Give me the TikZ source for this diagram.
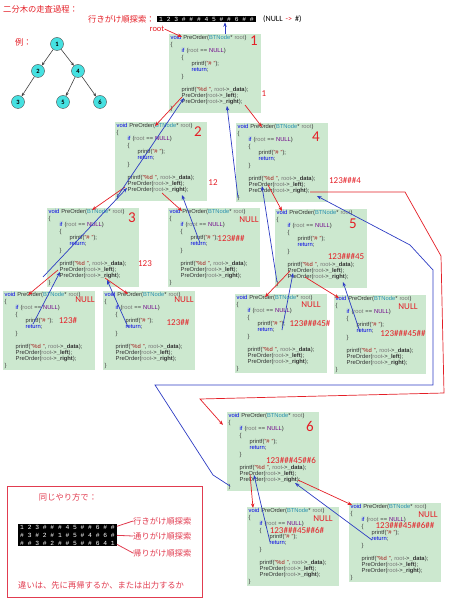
\documentclass[tikz,border=0pt]{standalone}
\usepackage{fontspec}
\setmainfont{Carlito}
\setsansfont{Liberation Sans}
\setmonofont{Liberation Mono}
\newfontfamily\jp{Noto Sans CJK JP}
\usetikzlibrary{arrows.meta}

\definecolor{eyegreen}{RGB}{204,232,207}
\definecolor{kwblue}{RGB}{0,0,230}
\definecolor{typeteal}{RGB}{43,145,175}
\definecolor{nullpurple}{RGB}{111,0,138}
\definecolor{strred}{RGB}{163,21,21}
\definecolor{argray}{RGB}{120,120,120}
\definecolor{codegray}{RGB}{50,50,50}
\definecolor{markred}{RGB}{228,30,38}
\definecolor{boxred}{RGB}{225,60,80}
\definecolor{retblue}{RGB}{45,60,195}
\definecolor{nodecyan}{RGB}{70,225,225}

\newcommand{\kw}[1]{\textcolor{kwblue}{#1}}
\newcommand{\rt}{\textcolor{argray}{root}}
\newcommand{\preorder}{%
  \kw{void} PreOrder(\textcolor{typeteal}{BTNode}* \rt)\\
  \{\\
  \hspace*{11pt}\kw{if} (\rt{} == \textcolor{nullpurple}{NULL})\\
  \hspace*{11pt}\{\\
  \hspace*{21pt}printf(\textcolor{strred}{"\# "});\\
  \hspace*{21pt}\kw{return};\\
  \hspace*{11pt}\}\\
  \mbox{}\\
  \hspace*{11pt}printf(\textcolor{strred}{"\%d "}, \rt->\textbf{\_data});\\
  \hspace*{11pt}PreOrder(\rt->\textbf{\_left});\\
  \hspace*{11pt}PreOrder(\rt->\textbf{\_right});\\
  \}}

\begin{document}
\begin{tikzpicture}[x=1pt,y=-1pt,
  codebox/.style={fill=eyegreen, anchor=north west, inner sep=1.5pt,
    text width=89pt, minimum height=78pt, align=left, text=codegray,
    font=\sffamily\fontsize{5.8}{6.4}\selectfont},
  call/.style={draw=markred, line width=0.7pt, -{Stealth[length=4.5pt,width=3.5pt]}},
  back/.style={draw=retblue, line width=0.7pt, -{Stealth[length=4.5pt,width=3.5pt]}},
  num/.style={text=markred, inner sep=0pt, font=\fontsize{15}{15}\selectfont},
  outseq/.style={text=markred, inner sep=0pt, font=\fontsize{9}{9}\selectfont},
  jptext/.style={text=markred, inner sep=0pt, font=\jp\fontsize{8.3}{9}\selectfont},
  seqbar/.style={fill=black, text=white, align=left, inner xsep=2pt, inner ysep=1pt,
    font=\ttfamily\fontsize{6.3}{8}\selectfont},
  tnode/.style={circle, draw=black!70, fill=nodecyan, minimum size=13pt, inner sep=0pt,
    font=\bfseries\fontsize{6.5}{6.5}\selectfont},
  tedge/.style={draw=black!75, line width=0.6pt, -{Stealth[length=3.5pt,width=3pt]}}]

\useasboundingbox (0,0) rectangle (474,609);

% title and result of the walk
\node[jptext, anchor=west] (title) at (3,9) {二分木の走査過程：};
\node[jptext, anchor=west] (pretitle) at (88,19) {行きがけ順探索：};
\node[seqbar, anchor=west] (seq) at (157,19) {1 2 3 \# \# \# 4 5 \# \# 6 \# \#};
\node[anchor=west, inner sep=0pt, font=\fontsize{8}{8}\selectfont] (nullnote) at (263,19)
  {(NULL\hspace{3pt}\textcolor{markred}{->}\hspace{3pt}\#)};
\node[text=markred, inner sep=0pt, font=\fontsize{8.5}{8.5}\selectfont] (rootlbl) at (157,29) {root};

% example tree
\node[jptext, anchor=west] (ex) at (15,42) {例：};
\node[tnode] (t1) at (57,44) {1};
\node[tnode] (t2) at (38,71) {2};
\node[tnode] (t4) at (78,71) {4};
\node[tnode] (t3) at (18,102) {3};
\node[tnode] (t5) at (63,102) {5};
\node[tnode] (t6) at (100,102) {6};
\draw[tedge] (t1) -- (t2);
\draw[tedge] (t1) -- (t4);
\draw[tedge] (t2) -- (t3);
\draw[tedge] (t4) -- (t5);
\draw[tedge] (t4) -- (t6);

% one frame per call of PreOrder
\node[codebox] (f1) at (169,34) {\preorder};
\node[codebox] (f2) at (115,122) {\preorder};
\node[codebox] (f4) at (236,123) {\preorder};
\node[codebox] (f3) at (47,208) {\preorder};
\node[codebox] (f2n) at (168,208) {\preorder};
\node[codebox] (f5) at (275,209) {\preorder};
\node[codebox] (f3a) at (3,291) {\preorder};
\node[codebox] (f3b) at (103,291) {\preorder};
\node[codebox] (f5a) at (235,294) {\preorder};
\node[codebox] (f5b) at (334,295) {\preorder};
\node[codebox] (f6) at (227,412) {\preorder};
\node[codebox] (f6a) at (247,507) {\preorder};
\node[codebox] (f6b) at (349,503) {\preorder};

% node numbers
\node[num] (n1) at (254,41) {1};
\node[num] (n2) at (198,132) {2};
\node[num] (n3) at (132,218) {3};
\node[num] (n4) at (316,137) {4};
\node[num] (n5) at (353,224) {5};
\node[num] (n6) at (310,426) {6};

% printed so far
\node[outseq] (o1) at (264,94) {1};
\node[outseq] (o2) at (213,183) {12};
\node[outseq] (o3) at (145,264) {123};
\node[outseq] (o4) at (345,180) {123\#\#\#4};
\node[outseq] (o5) at (346,256) {123\#\#\#45};
\node[outseq] (o6) at (291,460) {123\#\#\#45\#\#6};
\node[outseq] (o2n) at (231,238) {123\#\#\#};
\node[outseq] (o3a) at (68,320) {123\#};
\node[outseq] (o3b) at (178,322) {123\#\#};
\node[outseq] (o5a) at (310,323) {123\#\#\#45\#};
\node[outseq] (o5b) at (403,333) {123\#\#\#45\#\#};
\node[outseq] (o6a) at (297,530) {123\#\#\#45\#\#6\#};
\node[outseq] (o6b) at (405,525) {123\#\#\#45\#\#6\#\#};

% empty subtrees
\node[outseq] (z2n) at (249,220) {NULL};
\node[outseq] (z3a) at (85,300) {NULL};
\node[outseq] (z3b) at (184,300) {NULL};
\node[outseq] (z5a) at (311,305) {NULL};
\node[outseq] (z5b) at (408,307) {NULL};
\node[outseq] (z6a) at (323,519) {NULL};
\node[outseq] (z6b) at (428,515) {NULL};

% calls (red)
\draw[call] (rootlbl.east) -- ([shift={(13,3)}]f1.north west);
\draw[call] ([shift={(13,63)}]f1.north west) -- ([shift={(40,4)}]f2.north west);
\draw[call] ([shift={(76,71)}]f1.north west) -- ([shift={(26,4)}]f4.north west);
\draw[call] ([shift={(10,65)}]f2.north west) -- ([shift={(45,2)}]f3.north west);
\draw[call] ([shift={(47,71)}]f2.north west) -- ([shift={(14,3)}]f2n.north west);
\draw[call] ([shift={(11,62)}]f3.north west) -- ([shift={(25,4)}]f3a.north west);
\draw[call] ([shift={(58,70)}]f3.north west) -- ([shift={(25,3)}]f3b.north west);
\draw[call] ([shift={(32,62)}]f4.north west) -- ([shift={(7,2)}]f5.north west);
\draw[call] ([shift={(15,62)}]f5.north west) -- ([shift={(30,3)}]f5a.north west);
\draw[call] ([shift={(30,68)}]f5.north west) -- ([shift={(5,3)}]f5b.north west);
\draw[call] ([shift={(74,69)}]f4.north west) -- (405,192) -- (441,256) -- (444,393)
  -- (200,399) -- ([shift={(-4,13)}]f6.north west);
\draw[call] ([shift={(23,62)}]f6.north west) -- ([shift={(6,1)}]f6a.north west);
\draw[call] ([shift={(71,68)}]f6.north west) -- ([shift={(3,2)}]f6b.north west);

% returns (blue)
\coordinate (top1) at ([xshift=56pt]f1.north west);
\draw[back] (top1) -- (top1 |- seq.south);
\draw[back] ([shift={(2,75)}]f2.north west) -- ([shift={(15,64)}]f1.north west);
\draw[back] ([shift={(2,75)}]f4.north west) -- ([shift={(58,72)}]f1.north west);
\draw[back] ([shift={(-4,69)}]f3.north west) -- ([shift={(12,66)}]f2.north west);
\draw[back] ([shift={(32,35)}]f2n.north west) -- ([shift={(67,73)}]f2.north west);
\draw[back] ([shift={(30,33)}]f3a.north west) -- ([shift={(13,64)}]f3.north west);
\draw[back] ([shift={(25,36)}]f3b.north west) -- ([shift={(60,72)}]f3.north west);
\draw[back] ([shift={(2,73)}]f5.north west) -- ([shift={(26,63)}]f4.north west);
\draw[back] ([shift={(47,36)}]f5a.north west) -- ([shift={(18,64)}]f5.north west);
\draw[back] ([shift={(26,37)}]f5b.north west) -- ([shift={(68,73)}]f5.north west);
\draw[back] ([shift={(3,74)}]f6.north west) -- (213,475) -- (155,385) -- (433,385)
  -- (433,270) -- (410,245) -- ([shift={(81,73)}]f4.north west);
\draw[back] ([shift={(23,35)}]f6a.north west) -- ([shift={(27,63)}]f6.north west);
\draw[back] ([shift={(23,37)}]f6b.north west) -- ([shift={(68,71)}]f6.north west);

% the same way for the three orders
\draw[boxred, line width=1pt] (7,486) rectangle (202,597);
\node[jptext, text=boxred] (same) at (68,497) {同じやり方で：};
\node[seqbar, anchor=north west] (seq2) at (18,524)
  {1 2 3 \# \# \# 4 5 \# \# 6 \# \#\\\# 3 \# 2 \# 1 \# 5 \# 4 \# 6 \#\\\# \# 3 \# 2 \# \# 5 \# \# 6 4 1};
\node[jptext, text=boxred, anchor=west] (lpre) at (133,521) {行きがけ順探索};
\node[jptext, text=boxred, anchor=west] (lin) at (133,536) {通りがけ順探索};
\node[jptext, text=boxred, anchor=west] (lpost) at (133,553) {帰りがけ順探索};
\draw[boxred, line width=0.8pt] ([yshift=9pt]seq2.east) -- (lpre.west);
\draw[boxred, line width=0.8pt] (seq2.east) -- (lin.west);
\draw[boxred, line width=0.8pt] ([yshift=-9pt]seq2.east) -- (lpost.west);
\node[jptext, text=boxred, anchor=west] (diff) at (18,585) {違いは、先に再帰するか、または出力するか};

\end{tikzpicture}
\end{document}
